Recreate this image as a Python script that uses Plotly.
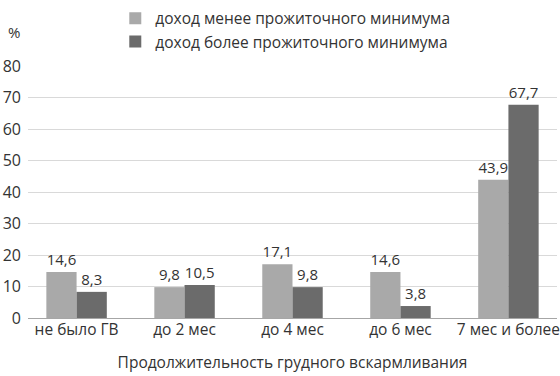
import plotly.graph_objects as go

categories = ["не было ГВ", "до 2 мес", "до 4 мес", "до 6 мес", "7 мес и более"]
series_names = ["доход менее прожиточного минимума", "доход более прожиточного минимума"]
low_income = [14.6, 9.8, 17.1, 14.6, 43.9]
high_income = [8.3, 10.5, 9.8, 3.8, 67.7]
y_ticks = [0, 10, 20, 30, 40, 50, 60, 70, 80]
x_title = "Продолжительность грудного вскармливания"
y_unit = "%"

colors = ["#a9a9a9", "#6b6b6b"]
FONT = "Open Sans"
TXT = "#333333"


def fmt(v):
    return f"{v:.1f}".replace(".", ",")


fig = go.Figure()
for name, vals, col in zip(series_names, [low_income, high_income], colors):
    fig.add_trace(go.Bar(
        x=categories, y=vals, name=name, marker_color=col,
        marker_line_width=0,
        text=[fmt(v) for v in vals], textposition="outside",
        textfont=dict(size=15, color=TXT, family=FONT),
        cliponaxis=False,
    ))

fig.update_layout(
    width=560, height=376,
    margin=dict(l=28, r=3, t=65, b=58),
    plot_bgcolor="white", paper_bgcolor="white",
    barmode="group", bargap=0.44, bargroupgap=0,
    font=dict(family=FONT, size=15, color=TXT),
    legend=dict(orientation="v", x=0.165, y=1.25, xanchor="left", yanchor="top",
                font=dict(size=15.5, color=TXT), itemwidth=30, tracegroupgap=0,
                bgcolor="rgba(0,0,0,0)"),
    showlegend=True,
)
fig.update_xaxes(
    range=[-0.45, 4.45], showgrid=False, showline=False, automargin=False,
    tickfont=dict(size=15.5, color=TXT), ticks="",
    title=dict(text=x_title, font=dict(size=15.5, color=TXT), standoff=18),
)
fig.update_yaxes(
    range=[0, 80], tickvals=y_ticks, showgrid=True, gridcolor="#d9d9d9", gridwidth=1,
    zeroline=True, zerolinecolor="#a6a6a6", zerolinewidth=1, automargin=False,
    tickfont=dict(size=16, color=TXT), ticks="", ticklabelstandoff=6,
)
fig.add_annotation(text=y_unit, xref="paper", yref="paper", x=-0.027, y=1.0,
                   xanchor="center", yanchor="middle", yshift=34, showarrow=False,
                   font=dict(size=15, color=TXT))

fig.write_html("out.html", config={"displayModeBar": False},
               post_script="document.body.style.margin='0';document.body.style.overflow='hidden';")
